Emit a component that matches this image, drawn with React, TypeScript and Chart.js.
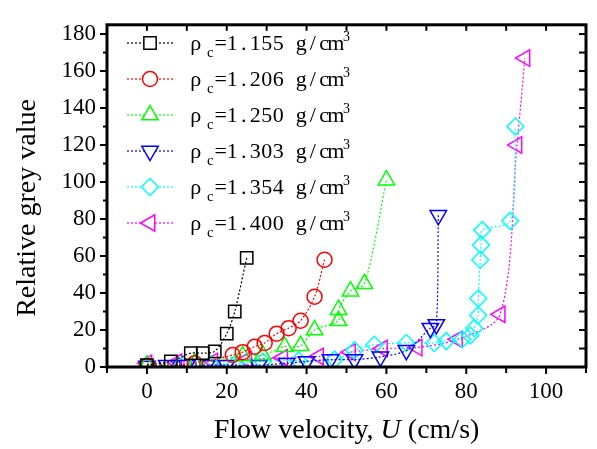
import React, { useEffect, useRef } from 'react';
import { Chart, registerables } from 'chart.js';
import { drawPoint } from 'chart.js/helpers';

Chart.register(...registerables);

// ---- axis specs ----
const X_MIN = -10;
const X_MAX = 110;
const Y_MIN = 0;
const Y_MAX = 185;
const X_TICKS = [0, 20, 40, 60, 80, 100];
const Y_TICKS = [0, 20, 40, 60, 80, 100, 120, 140, 160, 180];
const X_MINOR_STEP = 10;
const Y_MINOR_STEP = 10;
const Y_MINOR_TOP = 180;

const X_TITLE_A = 'Flow velocity, ';
const X_TITLE_U = 'U';
const X_TITLE_B = ' (cm/s)';
const Y_TITLE = 'Relative grey value';

// ---- series (x = flow velocity cm/s, y = relative grey value) ----
const LABELS = ['1.155', '1.206', '1.250', '1.303', '1.354', '1.400'];

const X_1155 = [0, 6, 11, 14, 17, 20, 22, 25];
const Y_1155 = [1, 3, 7.5, 7.5, 8.5, 18, 30, 59];

const X_1206 = [0, 12, 21.5, 24, 27, 29.5, 32.5, 35.5, 38.5, 42, 44.5];
const Y_1206 = [0.5, 2, 6.5, 8, 11, 13, 18, 21, 25, 38, 58];

const X_1250 = [0, 12, 24, 29, 34.5, 38.5, 42, 48, 48, 51, 54.5, 60];
const Y_1250 = [1, 2, 6, 6.5, 11, 11.5, 20, 25, 31, 41, 45, 101];

const X_1303 = [0, 5, 10, 15, 20, 28, 35, 40, 46, 52, 58.5, 65, 71, 72.5, 73];
const Y_1303 = [0.5, 1, 1, 1, 1, 1, 2, 3, 4, 4, 5.5, 9, 21, 23, 82];

const X_1354 = [0, 9, 16, 22, 29, 38, 47, 52, 57, 65, 72, 75, 79, 81, 82, 83, 83, 83.5, 83.7, 84, 91, 92.3];
const Y_1354 = [1, 1, 1.5, 1.5, 3, 3.5, 4, 9, 12, 13, 13, 14, 15, 17, 21, 28, 37, 58, 66, 74, 79, 130];

const X_1400 = [0, 7.5, 16.5, 25, 34, 43, 51, 59, 67.7, 77.8, 88.5, 92.7, 94.7];
const Y_1400 = [2, 2.5, 3, 4, 5, 5.7, 8, 10, 10.5, 15, 28.5, 120, 167];

const SERIES_X = [X_1155, X_1206, X_1250, X_1303, X_1354, X_1400];
const SERIES_Y = [Y_1155, Y_1206, Y_1250, Y_1303, Y_1354, Y_1400];

const COLORS = ['#000000', '#ff0000', '#00ff00', '#0000ff', '#00ffff', '#ff00ff'];
const POINT_STYLES = ['rect', 'circle', 'triangle', 'triangle', 'rectRot', 'triangle'];
const POINT_ROTATIONS = [0, 0, 0, 180, 0, -90];
const POINT_RADII = [8.7, 7.5, 9.5, 9.5, 8.5, 9.5];

const SERIF = '"Liberation Serif", "Times New Roman", serif';

Chart.defaults.font.family = SERIF;

const decorPlugin = {
  id: 'decor',
  afterDraw(chart: any) {
    const { ctx, chartArea, scales } = chart;
    const { left, right, top, bottom } = chartArea;
    const xs = scales.x;
    const ys = scales.y;
    ctx.save();
    ctx.strokeStyle = '#000';
    ctx.setLineDash([]);
    const seg = (x1: number, y1: number, x2: number, y2: number) => {
      ctx.beginPath();
      ctx.moveTo(x1, y1);
      ctx.lineTo(x2, y2);
      ctx.stroke();
    };
    ctx.lineWidth = 2;
    for (let v = X_MIN; v <= X_MAX; v += X_MINOR_STEP) {
      const px = xs.getPixelForValue(v);
      const major = X_TICKS.includes(v);
      seg(px, bottom, px, bottom + (major ? 7 : 6));
      seg(px, top, px, top + 6);
    }
    for (let v = Y_MIN; v <= Y_MINOR_TOP; v += Y_MINOR_STEP) {
      const py = ys.getPixelForValue(v);
      const major = Y_TICKS.includes(v);
      seg(left - (major ? 7 : 4), py, left, py);
      seg(right - 7, py, right, py);
    }
    ctx.lineWidth = 3;
    ctx.strokeRect(left, top, right - left, bottom - top);

    // axis titles
    ctx.fillStyle = '#000';
    ctx.font = `28px ${SERIF}`;
    ctx.save();
    ctx.translate(28, 208);
    ctx.rotate(-Math.PI / 2);
    ctx.textAlign = 'center';
    ctx.textBaseline = 'middle';
    ctx.fillText(Y_TITLE, 0, 0);
    ctx.restore();

    ctx.textBaseline = 'alphabetic';
    ctx.textAlign = 'left';
    const fN = `28px ${SERIF}`;
    const fI = `italic 28px ${SERIF}`;
    ctx.font = fN;
    const wA = ctx.measureText(X_TITLE_A).width;
    const wB = ctx.measureText(X_TITLE_B).width;
    ctx.font = fI;
    const wU = ctx.measureText(X_TITLE_U).width;
    const cx = (left + right) / 2;
    let tx = cx - (wA + wU + wB) / 2;
    const ty = 438;
    ctx.font = fN;
    ctx.fillText(X_TITLE_A, tx, ty);
    tx += wA;
    ctx.font = fI;
    ctx.fillText(X_TITLE_U, tx, ty);
    tx += wU;
    ctx.font = fN;
    ctx.fillText(X_TITLE_B, tx, ty);

    // legend (fixed-pitch serif text)
    const rowY0 = 43;
    const rowDY = 36;
    const pitch = 11.5;
    const pitched = (text: string, x0: number, y: number, size: number) => {
      ctx.font = `${size}px ${SERIF}`;
      for (let k = 0; k < text.length; k++) {
        const ch = text[k];
        const w = ctx.measureText(ch).width;
        ctx.fillText(ch, x0 + k * pitch + (pitch - w) / 2, y);
      }
    };
    chart.data.datasets.forEach((ds: any, i: number) => {
      const yRow = rowY0 + i * rowDY;
      ctx.strokeStyle = ds.borderColor;
      ctx.lineWidth = 1.2;
      ctx.setLineDash([2, 2]);
      seg(127, yRow, 173, yRow);
      ctx.setLineDash([]);
      ctx.fillStyle = '#fff';
      ctx.strokeStyle = ds.pointBorderColor;
      ctx.lineWidth = 1.5;
      drawPoint(ctx, {
        pointStyle: ds.pointStyle,
        rotation: ds.pointRotation,
        radius: ds.pointRadius,
        borderWidth: 1.5,
      } as any, 150, yRow);

      ctx.fillStyle = '#000';
      const base = yRow + 7;
      pitched('ρ', 190, base, 22);
      ctx.font = `15px ${SERIF}`;
      ctx.fillText('c', 207, base + 7);
      pitched('=' + LABELS[i] + ' g/cm', 215, base, 22);
      ctx.font = `14px ${SERIF}`;
      ctx.fillText('3', 343, base - 9);
    });
    ctx.restore();
  },
};

export default function App() {
  const ref = useRef<HTMLCanvasElement | null>(null);
  useEffect(() => {
    document.body.style.margin = '0';
    const canvas = ref.current;
    if (!canvas) return;
    const datasets = SERIES_X.map((xs, i) => ({
      label: LABELS[i],
      data: xs.map((x, j) => ({ x, y: SERIES_Y[i][j] })),
      showLine: true,
      borderColor: COLORS[i],
      backgroundColor: 'transparent',
      borderWidth: 1.2,
      borderDash: [2, 2],
      tension: 0.3,
      pointStyle: POINT_STYLES[i],
      pointRotation: POINT_ROTATIONS[i],
      pointRadius: POINT_RADII[i],
      pointBorderWidth: 1.5,
      pointBorderColor: COLORS[i],
      pointBackgroundColor: 'transparent',
    }));
    const chart = new Chart(canvas, {
      type: 'scatter',
      data: { datasets },
      options: {
        animation: false,
        responsive: false,
        devicePixelRatio: 1,
        layout: { padding: { left: 0, right: 7, top: 11, bottom: 0 } },
        plugins: { legend: { display: false }, tooltip: { enabled: false }, title: { display: false } },
        scales: {
          x: {
            type: 'linear',
            min: X_MIN,
            max: X_MAX,
            grid: { display: false, drawTicks: false },
            border: { display: false },
            ticks: { color: '#000', font: { family: SERIF, size: 23 }, padding: 11, maxRotation: 0, autoSkip: false },
            afterBuildTicks: (s: any) => { s.ticks = X_TICKS.map((v) => ({ value: v })); },
            afterFit: (s: any) => { s.height = 82; },
          },
          y: {
            type: 'linear',
            min: Y_MIN,
            max: Y_MAX,
            grid: { display: false, drawTicks: false },
            border: { display: false },
            ticks: { color: '#000', font: { family: SERIF, size: 23 }, padding: 11, autoSkip: false },
            afterBuildTicks: (s: any) => { s.ticks = Y_TICKS.map((v) => ({ value: v })); },
            afterFit: (s: any) => { s.width = 107; },
          },
        },
      } as any,
      plugins: [decorPlugin],
    });
    return () => chart.destroy();
  }, []);
  return (
    <div style={{ position: 'absolute', left: 0, top: 0, width: 597, height: 449, background: '#fff' }}>
      <canvas ref={ref} width={597} height={449} style={{ display: 'block', width: 597, height: 449 }} />
    </div>
  );
}
